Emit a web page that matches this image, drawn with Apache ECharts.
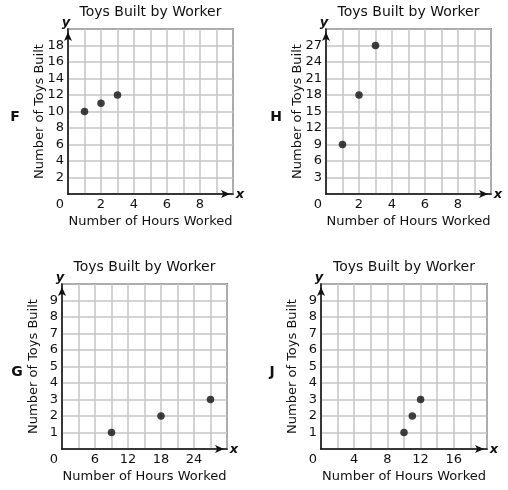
<!DOCTYPE html>
<html>
<head>
<meta charset="utf-8">
<script src="https://cdn.jsdelivr.net/npm/echarts@6/dist/echarts.min.js"></script>
<style>
html,body{margin:0;padding:0;background:#fff;}
#chart{width:508px;height:490px;}
</style>
</head>
<body>
<div id="chart"></div>
<script>
// ---- data ----
const titleText = 'Toys Built by Worker';
const xName = 'Number of Hours Worked';
const yName = 'Number of Toys Built';
const panelLetters = ['F', 'H', 'G', 'J'];

const fHours = [1, 2, 3];
const fToys = [10, 11, 12];
const hHours = [1, 2, 3];
const hToys = [9, 18, 27];
const gHours = [9, 18, 27];
const gToys = [1, 2, 3];
const jHours = [10, 11, 12];
const jToys = [1, 2, 3];

// axis ranges: [max, gridStep, labelStep]
const fXAxis = [10, 1, 2];
const fYAxis = [20, 2, 2];
const hXAxis = [10, 1, 2];
const hYAxis = [30, 3, 3];
const gXAxis = [30, 3, 6];
const gYAxis = [10, 1, 1];
const jXAxis = [20, 2, 4];
const jYAxis = [10, 1, 1];

// ---- layout ----
const FONT = 'DejaVu Sans';
const TXT = '#111';
const grids = [
  {left: 68, top: 29, width: 165, height: 165},
  {left: 326, top: 29, width: 165, height: 165},
  {left: 62, top: 284, width: 165, height: 165},
  {left: 321, top: 284, width: 166, height: 165}
];
const letterX = [15, 276, 17, 272];
const xs = [fXAxis, hXAxis, gXAxis, jXAxis];
const ys = [fYAxis, hYAxis, gYAxis, jYAxis];
const dataSets = [[fHours, fToys], [hHours, hToys], [gHours, gToys], [jHours, jToys]];

function pairs(a, b) { return a.map((v, i) => [v, b[i]]); }

const option = {
  animation: false,
  backgroundColor: '#fff',
  textStyle: {fontFamily: FONT},
  grid: grids.map(g => Object.assign({show: true, borderColor: '#333', borderWidth: 1.5, backgroundColor: 'transparent'}, g)),
  xAxis: xs.map((ax, i) => ({
    type: 'value', gridIndex: i, min: 0, max: ax[0], interval: ax[1],
    name: xName, nameLocation: 'middle', nameGap: 21, nameMoveOverlap: false,
    nameTextStyle: {fontFamily: FONT, fontSize: 13, color: TXT},
    axisLine: {show: true, onZero: false, lineStyle: {color: '#111', width: 1.5},
      symbol: ['none', 'arrow'], symbolSize: [6, 9], symbolOffset: [0, -3]},
    axisTick: {show: false},
    splitLine: {show: true, lineStyle: {color: '#c4c4c4', width: 1.5}},
    axisLabel: {
      interval: 0, margin: 4, fontFamily: FONT, fontSize: 13, color: TXT,
      formatter: v => {
        if (v === 0) return '{z|0}';
        if (v % ax[2] === 0 && v < ax[0]) return String(v);
        return '';
      },
      rich: {z: {padding: [0, 16, 0, 0], fontFamily: FONT, fontSize: 13, color: TXT}}
    }
  })),
  yAxis: ys.map((ax, i) => ({
    type: 'value', gridIndex: i, min: 0, max: ax[0], interval: ax[1],
    name: yName, nameLocation: 'middle', nameGap: 22, nameMoveOverlap: false,
    nameTextStyle: {fontFamily: FONT, fontSize: 13, color: TXT},
    axisLine: {show: true, onZero: false, lineStyle: {color: '#111', width: 1.5},
      symbol: ['none', 'arrow'], symbolSize: [6, 9], symbolOffset: [0, -3]},
    axisTick: {show: false},
    splitLine: {show: true, lineStyle: {color: '#c4c4c4', width: 1.5}},
    axisLabel: {
      interval: 0, margin: 4, fontFamily: FONT, fontSize: 13, color: TXT,
      formatter: v => (v > 0 && v < ax[0] && v % ax[2] === 0) ? String(v) : ''
    }
  })),
  series: dataSets.map((d, i) => ({
    type: 'scatter', xAxisIndex: i, yAxisIndex: i,
    data: pairs(d[0], d[1]), symbolSize: 7.5,
    itemStyle: {color: '#111'}
  })),
  graphic: []
};

grids.forEach((g, i) => {
  const cx = g.left + g.width / 2;
  option.graphic.push({type: 'text', x: cx, y: g.top - 17,
    style: {text: titleText, align: 'center', verticalAlign: 'middle', font: '14px "DejaVu Sans"', fill: TXT}});
  option.graphic.push({type: 'text', x: letterX[i], y: g.top + g.height / 2 + 6,
    style: {text: panelLetters[i], align: 'center', verticalAlign: 'middle', font: 'bold 14px "DejaVu Sans"', fill: TXT}});
  option.graphic.push({type: 'text', x: g.left - 2, y: g.top - 6,
    style: {text: 'y', align: 'center', verticalAlign: 'middle', font: 'italic bold 13px "DejaVu Sans"', fill: TXT}});
  option.graphic.push({type: 'text', x: g.left + g.width + 7, y: g.top + g.height + 1,
    style: {text: 'x', align: 'center', verticalAlign: 'middle', font: 'italic bold 13px "DejaVu Sans"', fill: TXT}});
});

const chart = echarts.init(document.getElementById('chart'), null, {renderer: 'canvas'});
chart.setOption(option);
</script>
</body>
</html>
